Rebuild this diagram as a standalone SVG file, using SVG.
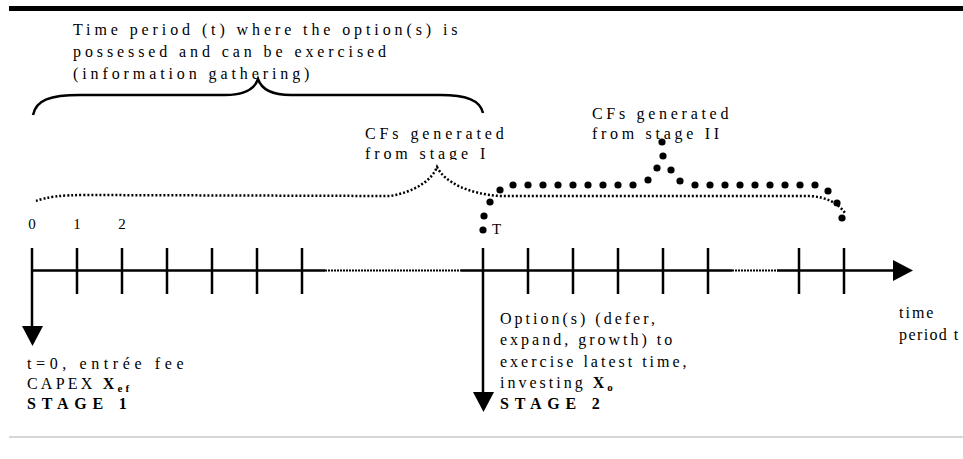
<svg xmlns="http://www.w3.org/2000/svg" width="963" height="459" viewBox="0 0 963 459" font-family="'Liberation Serif', 'Times New Roman', 'DejaVu Serif', serif">
  <style>
    text { font-family: 'Liberation Serif', 'Times New Roman', 'DejaVu Serif', serif; fill: #000; }
    .lbl { font-size: 16px; letter-spacing: 3.9px; }
    .opt { font-size: 16px; letter-spacing: 3px; }
    .num { font-size: 15px; }
    .stage { font-size: 16px; font-weight: bold; letter-spacing: 5.8px; }
    .line { stroke: #000; stroke-width: 2.5; fill: none; }
    .gap { stroke: #000; stroke-width: 2; stroke-dasharray: 2 1; fill: none; }
    .thin { stroke: #000; stroke-width: 2.5; stroke-dasharray: 2 2; fill: none; }
    .dot { fill: #000; }
    .head { fill: #000; }
  </style>
  <defs>
    <clipPath id="clipStage1">
      <rect x="340" y="100" width="200" height="60"/>
    </clipPath>
  </defs>

  <rect x="0" y="0" width="963" height="459" fill="#fff"/>
  <!-- page rules -->
  <rect x="9" y="6" width="954" height="5" fill="#000"/>
  <line x1="9" y1="437" x2="963" y2="437" stroke="#c8c8c8" stroke-width="1.5"/>

  <!-- option period label and brace -->
  <g id="option-period">
    <text class="lbl" x="73" y="35">Time period (t) where the option(s) is</text>
    <text class="lbl" x="73" y="57">possessed and can be exercised</text>
    <text class="lbl" x="73" y="79">(information gathering)</text>
    <path class="line" d="M33 115 C36 100 50 95 80 95 L225 95 C245 95 255 88 258 79 C261 88 271 95 291 95 L440 95 C466 95 480 100 483 113"/>
  </g>

  <!-- cash flows of stage I -->
  <g id="cf-stage1">
    <g clip-path="url(#clipStage1)">
      <text class="lbl" x="365" y="139">CFs generated</text>
      <text class="lbl" x="365" y="159">from stage I</text>
    </g>
    <path class="thin" d="M36 201 C46 197 62 195 85 195 L390 196 C415 192 432 180 437 167 C445 183 470 194 500 196 L810 196 C826 197 838 203 845 213"/>
  </g>

  <!-- cash flows of stage II -->
  <g id="cf-stage2">
    <text class="lbl" x="592" y="119" style="letter-spacing:3.7px">CFs generated</text>
    <text class="lbl" x="592" y="139" style="letter-spacing:3.7px">from stage II</text>
    <g class="dot">
      <circle cx="483" cy="230" r="3.6"/>
      <circle cx="484" cy="216" r="3.6"/>
      <circle cx="490" cy="202" r="3.6"/>
      <circle cx="500" cy="190" r="3.6"/>
      <circle cx="513" cy="185" r="3.6"/>
      <circle cx="528" cy="185" r="3.6"/>
      <circle cx="543" cy="185" r="3.6"/>
      <circle cx="558" cy="185" r="3.6"/>
      <circle cx="573" cy="185" r="3.6"/>
      <circle cx="588" cy="185" r="3.6"/>
      <circle cx="603" cy="185" r="3.6"/>
      <circle cx="618" cy="185" r="3.6"/>
      <circle cx="633" cy="185" r="3.6"/>
      <circle cx="648" cy="180" r="3.6"/>
      <circle cx="657" cy="168" r="3.6"/>
      <circle cx="663" cy="156" r="3.6"/>
      <circle cx="662" cy="142" r="3.6"/>
      <circle cx="671" cy="170" r="3.6"/>
      <circle cx="680" cy="181" r="3.6"/>
      <circle cx="695" cy="185" r="3.6"/>
      <circle cx="710" cy="185" r="3.6"/>
      <circle cx="725" cy="185" r="3.6"/>
      <circle cx="740" cy="185" r="3.6"/>
      <circle cx="755" cy="185" r="3.6"/>
      <circle cx="770" cy="185" r="3.6"/>
      <circle cx="785" cy="185" r="3.6"/>
      <circle cx="800" cy="185" r="3.6"/>
      <circle cx="815" cy="185" r="3.6"/>
      <circle cx="828" cy="191" r="3.6"/>
      <circle cx="837" cy="203" r="3.6"/>
      <circle cx="842" cy="218" r="3.6"/>
    </g>
    <text class="num" x="492" y="234">T</text>
  </g>

  <!-- time axis -->
  <g id="time-axis">
    <text class="num" x="32" y="229" text-anchor="middle">0</text>
    <text class="num" x="77" y="229" text-anchor="middle">1</text>
    <text class="num" x="122" y="229" text-anchor="middle">2</text>
    <path class="line" d="M32 270.5 H325 M461 270.5 H732 M777 270.5 H895"/>
    <path class="gap" d="M325 270.5 H461 M732 270.5 H777"/>
    <path class="line" d="M77 248 V294 M122 248 V294 M167 248 V294 M212 248 V294 M257 248 V294 M302 248 V294 M528 248 V294 M573 248 V294 M618 248 V294 M663 248 V294 M708 248 V294 M799 248 V294 M844 248 V294"/>
    <polygon class="head" points="893,260 913,270.5 893,281"/>
    <text class="lbl" x="899" y="318" style="letter-spacing:2px">time</text>
    <text class="lbl" x="899" y="340" style="letter-spacing:1.4px">period t</text>
  </g>

  <!-- stage 1 outflow -->
  <g id="stage1">
    <path class="line" d="M32 248 V328"/>
    <polygon class="head" points="22,326 43,326 32.5,346"/>
    <text class="lbl" x="27" y="369" style="letter-spacing:4.6px">t=0, entrée fee</text>
    <text class="lbl" x="27" y="389" style="letter-spacing:3.2px">CAPEX <tspan font-weight="bold">X</tspan><tspan font-weight="bold" font-size="11" dy="3">ef</tspan></text>
    <text class="stage" x="27" y="409">STAGE 1</text>
  </g>

  <!-- stage 2 outflow -->
  <g id="stage2">
    <path class="line" d="M483 248 V394"/>
    <polygon class="head" points="473,392 494,392 483.5,412"/>
    <text class="opt" x="500" y="324">Option(s) (defer,</text>
    <text class="opt" x="500" y="345">expand, growth) to</text>
    <text class="opt" x="500" y="367">exercise latest time,</text>
    <text class="opt" x="500" y="388">investing <tspan font-weight="bold">X</tspan><tspan font-weight="bold" font-size="11" dy="3">o</tspan></text>
    <text class="stage" x="500" y="409">STAGE 2</text>
  </g>
</svg>
